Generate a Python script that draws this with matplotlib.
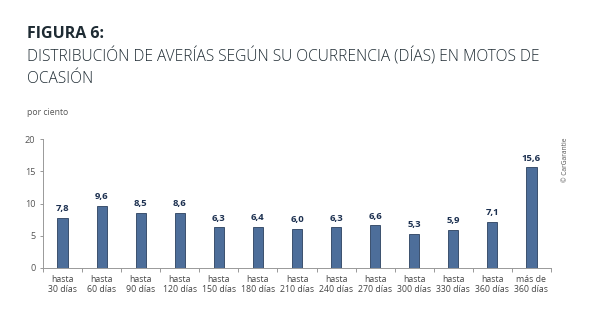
import matplotlib
matplotlib.use("Agg")
import matplotlib.pyplot as plt
import numpy as np

categories = ["hasta\n30 días", "hasta\n60 días", "hasta\n90 días", "hasta\n120 días",
              "hasta\n150 días", "hasta\n180 días", "hasta\n210 días", "hasta\n240 días",
              "hasta\n270 días", "hasta\n300 días", "hasta\n330 días", "hasta\n360 días",
              "más de\n360 días"]
values = [7.8, 9.6, 8.5, 8.6, 6.3, 6.4, 6.0, 6.3, 6.6, 5.3, 5.9, 7.1, 15.6]
value_labels = ["7,8", "9,6", "8,5", "8,6", "6,3", "6,4", "6,0", "6,3", "6,6", "5,3", "5,9", "7,1", "15,6"]
yticks = [0, 5, 10, 15, 20]

plt.rcParams['font.family'] = ['Open Sans', 'DejaVu Sans']

fig = plt.figure(figsize=(6.0, 3.22), dpi=100)
ax = fig.add_axes([0.0717, 0.168, 0.8466, 0.40])

x = np.arange(len(categories))
ax.bar(x, values, width=0.26, color="#4d6e9a", edgecolor="#2b405f", linewidth=0.6, zorder=3)
for xi, v, lab in zip(x, values, value_labels):
    ax.text(xi, v + 0.75, lab, ha="center", va="bottom", fontsize=6.8,
            fontweight="bold", color="#1c3050")

ax.set_xlim(-0.5, len(categories) - 0.5)
ax.set_ylim(0, 20)
ax.set_yticks(yticks)
ax.set_yticklabels([str(t) for t in yticks], fontsize=6.6, color="#555555")
ax.set_xticks(x)
ax.set_xticklabels(categories, fontsize=6.3, color="#444444", linespacing=1.1)
ax.tick_params(axis="x", length=0, pad=5)
ax.set_xticks(np.arange(-0.5, len(categories) + 0.5, 1), minor=True)
ax.tick_params(axis="x", which="minor", length=3, color="#888888", width=0.6, direction="out")
ax.tick_params(axis="y", length=2.5, color="#888888", width=0.6, pad=3)

for s in ["top", "right"]:
    ax.spines[s].set_visible(False)
for s in ["left", "bottom"]:
    ax.spines[s].set_color("#999999")
    ax.spines[s].set_linewidth(0.7)

fig.text(0.045, 0.881, "FIGURA 6:", fontsize=11.5, fontweight="bold", color="#1e2b33", va="baseline")
fig.text(0.045, 0.808, "DISTRIBUCIÓN DE AVERÍAS SEGÚN SU OCURRENCIA (DÍAS) EN MOTOS DE",
         fontsize=11.2, fontweight="light", color="#1e2b33", va="baseline")
fig.text(0.045, 0.742, "OCASIÓN", fontsize=11.2, fontweight="light", color="#1e2b33", va="baseline")
fig.text(0.045, 0.643, "por ciento", fontsize=6.2, color="#555555", va="baseline")
fig.text(0.943, 0.505, "© CarGarantie", fontsize=4.8, color="#555555", rotation=90,
         ha="center", va="center")

fig.savefig("out.png", dpi=100, facecolor="white")
